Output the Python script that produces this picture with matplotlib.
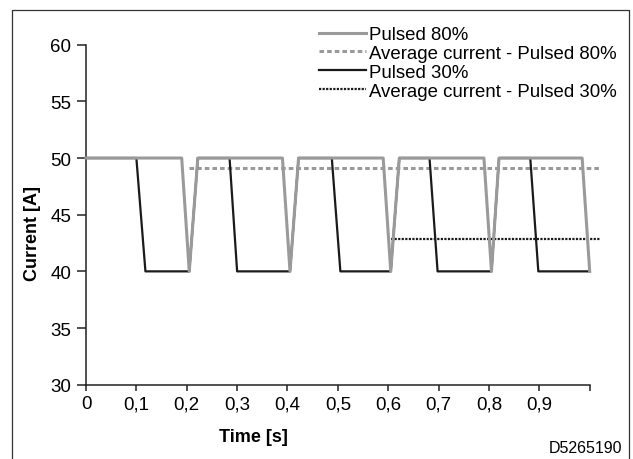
import matplotlib
matplotlib.use("Agg")
import matplotlib.pyplot as plt
from matplotlib.lines import Line2D

plt.rcParams['font.family'] = ['Liberation Sans', 'DejaVu Sans']

# Pulsed 80% current waveform
t_80 = [0, 0.19, 0.205, 0.222, 0.39, 0.405, 0.422, 0.59, 0.605, 0.622,
        0.79, 0.805, 0.82, 0.985, 1.0]
i_80 = [50, 50, 40, 50, 50, 40, 50, 50, 40, 50, 50, 40, 50, 50, 40]

# Pulsed 30% current waveform
t_30 = [0, 0.1, 0.118, 0.205, 0.222, 0.285, 0.3, 0.405, 0.422, 0.488, 0.505,
        0.605, 0.622, 0.682, 0.698, 0.805, 0.82, 0.882, 0.898, 1.0]
i_30 = [50, 50, 40, 40, 50, 50, 40, 40, 50, 50, 40, 40, 50, 50, 40, 40, 50, 50, 40, 40]

# Average currents
avg_80_t = [0.205, 1.02]
avg_80_i = [49.1, 49.1]
avg_30_t = [0.605, 1.02]
avg_30_i = [42.9, 42.9]

labels = ["Pulsed 80%", "Average current - Pulsed 80%",
          "Pulsed 30%", "Average current - Pulsed 30%"]
x_ticks = [0, 0.1, 0.2, 0.3, 0.4, 0.5, 0.6, 0.7, 0.8, 0.9, 1.0]
x_ticklabels = ["0", "0,1", "0,2", "0,3", "0,4", "0,5", "0,6", "0,7", "0,8", "0,9", ""]
y_ticks = [30, 35, 40, 45, 50, 55, 60]

W, H = 633, 460
fig = plt.figure(figsize=(W / 100, H / 100), dpi=100)
ax = fig.add_axes([86 / W, 1 - 385.7 / H, (589.7 - 86) / W, (385.7 - 45.7) / H])

gray = "#9a9a9a"
l30, = ax.plot(t_30, i_30, color="#1a1a1a", lw=1.6, clip_on=False, zorder=3)
l80, = ax.plot(t_80, i_80, color=gray, lw=2.2, clip_on=False, zorder=4)
a80, = ax.plot(avg_80_t, avg_80_i, color=gray, lw=2.2, ls=(0, (1.5, 1.0)),
               clip_on=False, zorder=2)
a30, = ax.plot(avg_30_t, avg_30_i, color="#1a1a1a", lw=1.6, ls=(0, (1, 0.6)),
               clip_on=False, zorder=2)

ax.set_xlim(0, 1.0)
ax.set_ylim(30, 60)
ax.set_xticks(x_ticks)
ax.set_xticklabels(x_ticklabels)
ax.set_yticks(y_ticks)
for s in ["top", "right"]:
    ax.spines[s].set_visible(False)
for s in ["left", "bottom"]:
    ax.spines[s].set_linewidth(1.1)
    ax.spines[s].set_color("#222222")
ax.tick_params(axis="x", length=4.5, width=1.1, pad=3, labelsize=13.5, color="#222222")
ax.tick_params(axis="y", length=6.5, width=1.1, pad=4, labelsize=13.5, color="#222222")

ax.set_xlabel("Time [s]", fontsize=13, fontweight="bold")
ax.set_ylabel("Current [A]", fontsize=13, fontweight="bold")
ax.xaxis.label.set_va("center")
ax.yaxis.label.set_va("center")
ax.xaxis.set_label_coords(0.333, -0.151)
ax.yaxis.set_label_coords(-0.107, 0.449)

leg = ax.legend([l80, a80, l30, a30], labels, loc="upper left",
                bbox_to_anchor=(319 / W, 1 - 27 / H), bbox_transform=fig.transFigure,
                frameon=False, fontsize=13.4, borderpad=0, borderaxespad=0,
                handlelength=2.5, handletextpad=0.2, labelspacing=0.1)

fig.text(622.7 / W, 1 - 449 / H, "D5265190", ha="right", va="center", fontsize=11.5)

# outer frame
fig.add_artist(Line2D([12 / W, 12 / W, 629 / W, 629 / W],
                      [-0.01, 1 - 10.5 / H, 1 - 10.5 / H, -0.01],
                      transform=fig.transFigure, color="#333333", lw=0.9))

fig.savefig("out.png", dpi=100)
